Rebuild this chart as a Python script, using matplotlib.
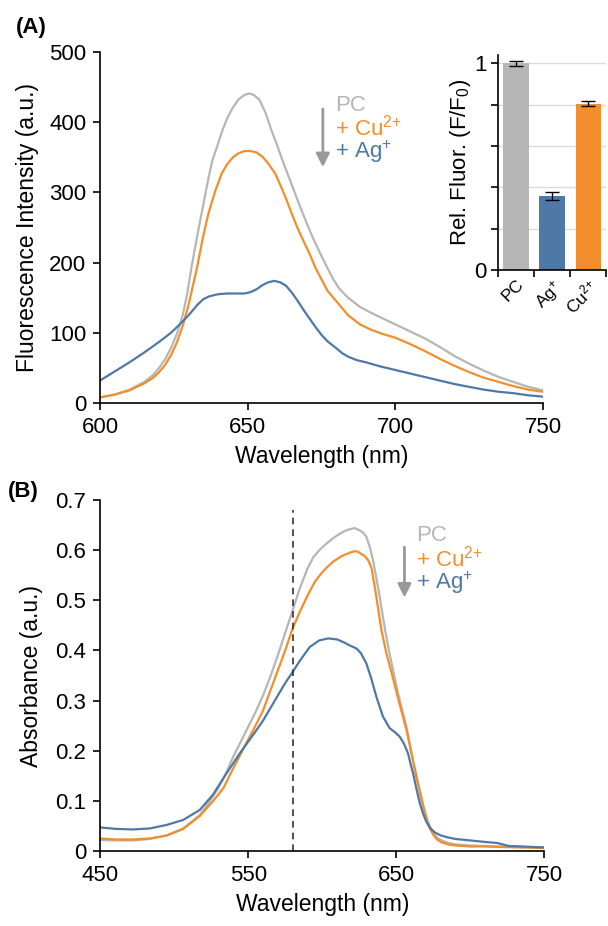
import numpy as np
import matplotlib
matplotlib.use("Agg")
import matplotlib.pyplot as plt

plt.rcParams['font.family'] = ['Liberation Sans', 'DejaVu Sans']
plt.rcParams['mathtext.fontset'] = 'custom'
plt.rcParams['mathtext.rm'] = 'Liberation Sans'
plt.rcParams['mathtext.it'] = 'Liberation Sans'

GREY = '#b6b6b6'
ORANGE = '#f28e2b'
BLUE = '#4e79a7'

# (A) fluorescence spectra
fl_wl_pc = [600, 605, 610, 615, 618, 620, 622, 624, 626, 628, 629.5, 631, 633, 635, 636.6, 638,
            640, 641.5, 643, 645, 647, 649, 650.5, 652, 654, 656, 658, 660, 662, 664.3, 666,
            668, 670, 672, 674, 676.8, 679, 681, 684, 688, 692, 696, 700, 705, 710, 715, 720,
            725, 730, 735, 740, 745, 750]
fl_pc = [8, 12, 19, 30, 40, 50, 62, 78, 98, 125, 155, 194, 240, 283, 318, 345,
         370, 389, 405, 421, 433, 439, 441, 439, 432, 414, 389, 367, 343, 318, 299,
         277, 256, 236, 218, 194, 176, 163, 150, 137, 128, 120, 112, 102, 92, 80, 67,
         56, 46, 37, 30, 23, 18]

fl_wl_cu = [600, 605, 610, 615, 618, 620, 622, 624, 626, 628, 630, 631.5, 632.9, 634.8, 636.7,
            639, 641.2, 643, 645, 647, 649, 651, 653, 655, 657, 659.3, 661, 663, 664.9, 667,
            669, 671, 672.8, 675, 677, 680, 684, 688, 692, 696, 700, 705, 710, 715, 720, 725,
            730, 735, 740, 745, 750]
fl_cu = [8, 12, 18, 28, 36, 44, 54, 68, 86, 110, 140, 168, 194, 235, 270,
         302, 327, 340, 350, 356, 359, 359, 357, 351, 341, 327, 311, 291, 270, 248,
         230, 212, 194, 176, 160, 145, 125, 112, 104, 98, 93, 84, 74, 63, 53, 44,
         36, 30, 24, 19, 16]

fl_wl_ag = [600, 605, 610, 615, 620, 624, 627, 630, 633, 635, 637, 640, 643, 646, 649, 651,
            653, 655, 657, 659, 661, 663, 665, 667, 669, 671, 673, 675, 677, 680, 682, 684,
            687, 690, 695, 700, 705, 710, 715, 720, 725, 730, 735, 740, 745, 750]
fl_ag = [32, 45, 58, 72, 87, 100, 112, 125, 140, 148, 152, 155, 156, 156, 156, 158,
         162, 168, 172, 174, 172, 167, 157, 145, 132, 120, 108, 97, 88, 78, 71, 66,
         61, 58, 52, 47, 42, 37, 32, 27, 23, 19, 16, 14, 11, 9]

# inset: relative fluorescence
bar_labels = ['PC', 'Ag$^{{+}}$', 'Cu$^{2{+}}$']
bar_values = [1.0, 0.357, 0.805]
bar_errors = [0.012, 0.02, 0.012]

# (B) absorbance spectra
ab_wl_pc = [450, 461, 472.5, 483.7, 495, 506.2, 517.4, 522, 529.8, 535, 539.9, 544.5, 548.9,
            555, 560, 565, 570, 575, 580, 585, 590, 594, 598, 602, 607.3, 612, 615, 618.6,
            622, 625, 627.5, 629.8, 632, 634.3, 636.5, 638.8, 641, 643.3, 645.5, 647.8, 650,
            652.3, 654.5, 656.8, 659, 661.3, 663.5, 665.8, 668, 670.3, 672.5, 675, 677.5,
            680, 685, 690, 700, 710, 720, 735, 750]
ab_pc = [0.022, 0.021, 0.021, 0.024, 0.031, 0.045, 0.072, 0.09, 0.125, 0.155, 0.188, 0.215, 0.241,
         0.277, 0.31, 0.348, 0.39, 0.435, 0.48, 0.525, 0.563, 0.586, 0.6, 0.611, 0.624, 0.633,
         0.638, 0.642, 0.644, 0.64, 0.635, 0.627, 0.607, 0.58, 0.545, 0.507, 0.466, 0.427,
         0.393, 0.361, 0.33, 0.301, 0.275, 0.248, 0.215, 0.181, 0.152, 0.122, 0.094, 0.068,
         0.05, 0.036, 0.027, 0.022, 0.016, 0.013, 0.011, 0.01, 0.009, 0.008, 0.007]

ab_wl_cu = [450, 461, 472.5, 483.7, 495, 506.2, 517.4, 526.4, 533.2, 537.7, 542.2, 547.8, 553.4,
            560, 565, 570, 575, 580, 585, 590, 595, 600, 603.6, 607.3, 613, 618.6, 622, 624,
            626, 628.7, 631, 633.2, 635, 636.5, 639.9, 643.3, 647.3, 650, 652.3, 654.5, 656.8,
            659, 661.3, 663.5, 665.8, 668, 670.3, 672.5, 675, 677.5, 680, 685, 690, 700, 710,
            720, 735, 750]
ab_cu = [0.025, 0.023, 0.023, 0.025, 0.031, 0.044, 0.07, 0.1, 0.125, 0.152, 0.178, 0.21, 0.241,
         0.28, 0.32, 0.36, 0.4, 0.444, 0.478, 0.509, 0.537, 0.556, 0.567, 0.577, 0.588, 0.595,
         0.598, 0.597, 0.593, 0.588, 0.58, 0.565, 0.535, 0.507, 0.441, 0.394, 0.35, 0.318,
         0.292, 0.268, 0.242, 0.212, 0.178, 0.148, 0.118, 0.09, 0.064, 0.046, 0.032, 0.023,
         0.018, 0.013, 0.011, 0.009, 0.009, 0.008, 0.007, 0.006]

ab_wl_ag = [450, 461, 472.5, 483.7, 495, 506.2, 517.4, 526.4, 535.4, 544.4, 555.6, 560, 565,
            570, 575, 580, 585, 591.6, 598, 604, 610, 614, 618.6, 623, 626, 629.8, 633, 636.5,
            641, 645.5, 649, 652.3, 655, 657.9, 659.5, 661.3, 663.5, 665.8, 668, 670.3, 673,
            676, 680, 685, 690, 700, 710, 718, 722, 726, 735, 750]
ab_ag = [0.047, 0.044, 0.043, 0.045, 0.052, 0.062, 0.082, 0.113, 0.155, 0.195, 0.241, 0.26, 0.285,
         0.31, 0.335, 0.357, 0.38, 0.407, 0.42, 0.424, 0.422, 0.417, 0.41, 0.404, 0.395, 0.374,
         0.345, 0.308, 0.268, 0.245, 0.237, 0.228, 0.215, 0.195, 0.175, 0.155, 0.125, 0.096,
         0.075, 0.058, 0.045, 0.037, 0.031, 0.027, 0.024, 0.021, 0.018, 0.016, 0.013, 0.01,
         0.009, 0.007]

dash_wl = 580
dash_top = 0.68


def style_axes(ax):
    for s in ['top', 'right']:
        ax.spines[s].set_visible(False)
    for s in ['left', 'bottom']:
        ax.spines[s].set_linewidth(1.2)
    ax.tick_params(direction='out', length=5, width=1.2, labelsize=16, pad=5)


fig = plt.figure(figsize=(6.08, 9.26), dpi=100)

# ---- panel A ----
axA = fig.add_axes([0.1645, 0.5648, 0.7286, 0.379])
axA.plot(fl_wl_pc, fl_pc, color=GREY, lw=1.6)
axA.plot(fl_wl_cu, fl_cu, color=ORANGE, lw=1.6)
axA.plot(fl_wl_ag, fl_ag, color=BLUE, lw=1.6)
axA.set_xlim(600, 750)
axA.set_ylim(0, 500)
axA.set_xticks([600, 650, 700, 750])
axA.set_yticks([0, 100, 200, 300, 400, 500])
style_axes(axA)
axA.set_xlabel('Wavelength (nm)', fontsize=16.5, labelpad=5)
axA.set_ylabel('Fluorescence Intensity (a.u.)', fontsize=16.5, labelpad=7)
axA.text(0.53, 0.849, 'PC', color=GREY, fontsize=16, transform=axA.transAxes, va='center')
axA.text(0.53, 0.786, '+ Cu$^{2{+}}$', color=ORANGE, fontsize=16, transform=axA.transAxes, va='center')
axA.text(0.53, 0.716, '+ Ag$^{{+}}$', color=BLUE, fontsize=16, transform=axA.transAxes, va='center')
axA.annotate('', xy=(0.503, 0.672), xytext=(0.503, 0.838), xycoords='axes fraction',
             arrowprops=dict(arrowstyle='-|>', color='#999999', lw=2, mutation_scale=20,
                             shrinkA=0, shrinkB=0))
fig.text(0.026, 0.970, '(A)', fontsize=16, fontweight='bold', va='center')

# ---- inset ----
axI = fig.add_axes([0.819, 0.7084, 0.178, 0.232])
x = np.arange(len(bar_values))
axI.bar(x, bar_values, width=0.7, color=[GREY, BLUE, ORANGE], zorder=2)
axI.errorbar(x, bar_values, yerr=bar_errors, fmt='none', ecolor='black', elinewidth=1.0,
             capsize=5, capthick=1.0, zorder=3)
axI.set_xlim(-0.5, 2.5)
axI.set_ylim(0, 1.04)
axI.set_yticks([0, 0.2, 0.4, 0.6, 0.8, 1.0])
axI.set_yticklabels(['0', '', '', '', '', '1'])
axI.yaxis.grid(True, color='#dadada', lw=1.0, zorder=0)
axI.set_xticks([-0.5, 0.5, 1.5, 2.5])
axI.set_xticklabels([])
axI.set_xticks(x, minor=True)
axI.set_xticklabels(bar_labels, minor=True, rotation=45, ha='right', va='top',
                    rotation_mode='anchor', fontsize=12.5)
style_axes(axI)
axI.tick_params(axis='y', pad=3)
axI.tick_params(axis='x', which='minor', length=0, pad=5)
axI.set_ylabel('Rel. Fluor. (F/F$_0$)', fontsize=16, labelpad=1)

# ---- panel B ----
axB = fig.add_axes([0.1645, 0.081, 0.731, 0.379])
axB.plot(ab_wl_pc, ab_pc, color=GREY, lw=1.6)
axB.plot(ab_wl_cu, ab_cu, color=ORANGE, lw=1.6)
axB.plot(ab_wl_ag, ab_ag, color=BLUE, lw=1.6)
axB.plot([dash_wl, dash_wl], [0, dash_top], color='#333333', lw=1.2, ls=(0, (4, 3)))
axB.set_xlim(450, 750)
axB.set_ylim(0, 0.7)
axB.set_xticks([450, 550, 650, 750])
axB.set_yticks([0, 0.1, 0.2, 0.3, 0.4, 0.5, 0.6, 0.7])
axB.set_yticklabels(['0', '0.1', '0.2', '0.3', '0.4', '0.5', '0.6', '0.7'])
style_axes(axB)
axB.set_xlabel('Wavelength (nm)', fontsize=16.5, labelpad=5)
axB.set_ylabel('Absorbance (a.u.)', fontsize=16.5, labelpad=9)
axB.text(0.712, 0.900, 'PC', color=GREY, fontsize=16, transform=axB.transAxes, va='center')
axB.text(0.712, 0.834, '+ Cu$^{2{+}}$', color=ORANGE, fontsize=16, transform=axB.transAxes, va='center')
axB.text(0.712, 0.763, '+ Ag$^{{+}}$', color=BLUE, fontsize=16, transform=axB.transAxes, va='center')
axB.annotate('', xy=(0.685, 0.722), xytext=(0.685, 0.866), xycoords='axes fraction',
             arrowprops=dict(arrowstyle='-|>', color='#999999', lw=2, mutation_scale=20,
                             shrinkA=0, shrinkB=0))
fig.text(0.013, 0.4687, '(B)', fontsize=16, fontweight='bold', va='center')

fig.savefig('out.png', dpi=100)
